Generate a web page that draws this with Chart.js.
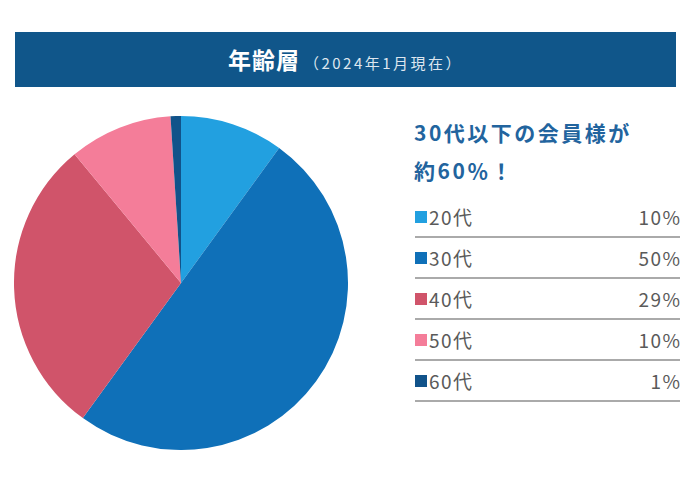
<!DOCTYPE html>
<html lang="ja">
<head>
<meta charset="utf-8">
<script src="https://cdn.jsdelivr.net/npm/chart.js@4"></script>
<style>
  html, body { margin: 0; padding: 0; background: #fff; }
  body { width: 690px; height: 500px; position: relative; overflow: hidden;
         font-family: "Noto Sans CJK JP", "Noto Sans", sans-serif; }
  #header { position: absolute; left: 15px; top: 32px; width: 661px; height: 55px;
            background: #10568a; color: #fff; text-align: center; line-height: 55px; }
  #header .main { font-size: 23px; font-weight: bold; letter-spacing: 1px; }
  #header .sub { font-size: 15px; color: #dde6ef; margin-left: 4px; letter-spacing: 2.5px; }
  #pieWrap { position: absolute; left: 14px; top: 116px; width: 334px; height: 334px; }
  #lead { position: absolute; left: 414px; top: 113px; color: #22649e; font-size: 21px;
          font-weight: bold; line-height: 38px; letter-spacing: 2.5px; }
  #legend { position: absolute; left: 415px; top: 197px; width: 265px; }
  .row { height: 39px; border-bottom: 2px solid #aaaaaa; display: flex; align-items: center;
         color: #5a5a5a; font-size: 19px; letter-spacing: 1.5px; }
  .sw { width: 12px; height: 12px; margin-right: 2px; }
  .lab { flex: 1; }
  .val { margin-right: -1.5px; }
</style>
</head>
<body>
<div id="header"><span class="main">年齢層</span><span class="sub">（2024年1月現在）</span></div>
<div id="pieWrap"><canvas id="pieChart" width="334" height="334"></canvas></div>
<div id="lead">30代以下の会員様が<br>約60％！</div>
<div id="legend"></div>
<script>
document.addEventListener('DOMContentLoaded', function () {
    // 年代別の割合
    const ageLabels = ['20代', '30代', '40代', '50代', '60代'];
    const ageShares = [10, 50, 29, 10, 1];
    const ageColors = ['#22a0e0', '#0f70b8', '#d0546a', '#f47d99', '#11538a'];

    // 右側の一覧
    const legend = document.getElementById('legend');
    ageLabels.forEach(function (label, i) {
        const row = document.createElement('div');
        row.className = 'row';
        row.innerHTML = '<span class="sw" style="background:' + ageColors[i] + '"></span>' +
            '<span class="lab">' + label + '</span><span class="val">' + ageShares[i] + '%</span>';
        legend.appendChild(row);
    });

    // 円グラフ
    const ctx = document.getElementById('pieChart').getContext('2d');
    new Chart(ctx, {
        type: 'pie',
        data: {
            labels: ageLabels,
            datasets: [{
                data: ageShares,
                backgroundColor: ageColors,
                borderWidth: 0
            }]
        },
        options: {
            responsive: false,
            animation: false,
            layout: { padding: 0 },
            plugins: {
                legend: { display: false },
                tooltip: { enabled: false }
            }
        }
    });
});
</script>
</body>
</html>
